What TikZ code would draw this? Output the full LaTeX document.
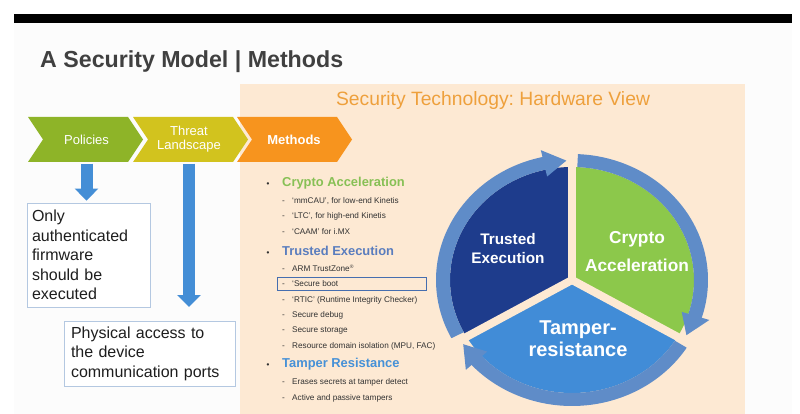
\documentclass[tikz,border=0pt]{standalone}
\usepackage{fontspec}
\setmainfont{Liberation Sans}
\usetikzlibrary{arrows.meta}
\frenchspacing
\definecolor{slidebg}{RGB}{252,252,252}
\definecolor{peach}{RGB}{253,233,211}
\definecolor{titlegray}{RGB}{64,64,64}
\definecolor{paneltitle}{RGB}{238,160,60}
\definecolor{chevgreen}{RGB}{142,180,40}
\definecolor{chevyellow}{RGB}{210,195,30}
\definecolor{chevorange}{RGB}{247,148,30}
\definecolor{arrowblue}{RGB}{68,142,214}
\definecolor{boxedge}{RGB}{180,200,225}
\definecolor{boxtext}{RGB}{30,30,30}
\definecolor{itemgray}{RGB}{50,50,50}
\definecolor{headgreen}{RGB}{135,192,85}
\definecolor{headtrusted}{RGB}{90,125,190}
\definecolor{headtamper}{RGB}{70,145,215}
\definecolor{secboxc}{RGB}{70,110,175}
\definecolor{navyc}{RGB}{30,60,140}
\definecolor{greenc}{RGB}{140,200,75}
\definecolor{tamperc}{RGB}{65,140,215}
\definecolor{bandc}{RGB}{95,140,200}
\newcommand\chevronshape[2]{%
  \fill[#2] (#1,117) -- ({#1+100},117) -- ({#1+115},139.5) -- ({#1+100},162)
    -- (#1,162) -- ({#1+15},139.5) -- cycle;}
\newcommand\cycband[3]{%
  \fill[bandc] (#1:122pt and 113pt) arc[start angle=#1, end angle=#2-0.5, x radius=122pt, y radius=113pt]
    -- (#2-0.5:136pt and 126pt) arc[start angle=#2-0.5, end angle=#1, x radius=136pt, y radius=126pt] -- cycle;
  \fill[bandc] (#2:115pt and 106pt) -- (#2:144pt and 133pt) -- (#3:129pt and 119.5pt) -- cycle;}
\tikzset{
  chevtext/.style={inner sep=0pt, minimum height=45pt, text=white,
    font=\fontsize{13}{14}\selectfont, align=center},
  infobox/.style={draw=boxedge, line width=0.8pt, fill=white, align=left,
    inner ysep=0pt, font=\fontsize{16}{19.5}\selectfont, text=boxtext},
  bluearrow/.style={draw=arrowblue, line width=12pt,
    -{Triangle[width=23pt,length=12pt]}},
  listitem/.style={anchor=base west, inner sep=0pt,
    font=\fontsize{8.2}{9}\selectfont, text=itemgray},
  listhead/.style={anchor=base west, inner sep=0pt,
    font=\fontsize{12.9}{14}\selectfont\bfseries},
  wedgetext/.style={text=white, align=center, inner sep=0pt},
  gapline/.style={draw=peach, line width=8pt},
}
\newcommand\dashitem[1]{\makebox[10pt][l]{-}#1}
\newcommand\bulhead[2]{\makebox[15.5pt][l]{\textcolor{itemgray}{\fontsize{8}{9}\selectfont •}}\textcolor{#1}{#2}}
\begin{document}
\begin{tikzpicture}[x=1pt,y=-1pt]
\useasboundingbox (0,0) rectangle (800,414);
\fill[white] (0,0) rectangle (800,414);
\fill[slidebg] (14,23) rectangle (792,414);
\fill[black] (14,14) rectangle (792,23);
\node[anchor=base west, inner sep=0pt, text=titlegray,
  font=\fontsize{23.2}{26}\selectfont\bfseries] (title) at (40,68) {A Security Model | Methods};
% panel
\fill[peach] (240,84) rectangle (745,414);
\node[anchor=base, inner sep=0pt, text=paneltitle, font=\fontsize{19.3}{22}\selectfont]
  (ptitle) at (493,106) {Security Technology: Hardware View};
% chevrons
\chevronshape{28}{chevgreen}
\chevronshape{133}{chevyellow}
\chevronshape{237}{chevorange}
\node[chevtext] (pol) at (86.5,139.5) {Policies};
\node[chevtext] (thr) at (189,139.5) {Threat\\Landscape};
\node[chevtext, font=\fontsize{13}{14}\selectfont\bfseries] (meth) at (294,139.5) {Methods};
% boxes
\node[infobox, inner xsep=5pt, text width=113pt, minimum height=104pt] (b1) at (88.5,255)
  {Only\\authenticated\\firmware\\should be\\executed};
\node[infobox, inner xsep=7pt, text width=157pt, minimum height=65pt] (b2) at (149.5,353.5)
  {Physical access to\\the device\\communication ports};
% arrows
\coordinate (thrEnd) at (189,307);
\draw[bluearrow, shorten <=1.5pt, shorten >=2pt] (pol.south) -- (b1.north -| pol.south);
\draw[bluearrow, shorten <=1.5pt] (thr.south) -- (thrEnd);
% list
\node[listhead] (h1) at (266.5,186.7) {\bulhead{headgreen}{Crypto Acceleration}};
\node[listitem] (i1) at (282,203.3) {\dashitem{‘mmCAU’, for low-end Kinetis}};
\node[listitem] (i2) at (282,218.5) {\dashitem{‘LTC’, for high-end Kinetis}};
\node[listitem] (i3) at (282,234) {\dashitem{‘CAAM’ for i.MX}};
\node[listhead] (h2) at (266.5,255) {\bulhead{headtrusted}{Trusted Execution}};
\node[listitem] (i4) at (282,271) {\dashitem{ARM TrustZone\raisebox{2.5pt}{\fontsize{5}{5}\selectfont ®}}};
\node[listitem] (i5) at (282,286.5) {\dashitem{‘Secure boot}};
\draw[draw=secboxc, line width=0.9pt] (277,277) rectangle (426,290);
\node[listitem] (i6) at (282,302) {\dashitem{‘RTIC’ (Runtime Integrity Checker)}};
\node[listitem] (i7) at (282,317.3) {\dashitem{Secure debug}};
\node[listitem] (i8) at (282,332.7) {\dashitem{Secure storage}};
\node[listitem] (i9) at (282,348) {\dashitem{Resource domain isolation (MPU, FAC)}};
\node[listhead] (h3) at (266.5,367.7) {\bulhead{headtamper}{Tamper Resistance}};
\node[listitem] (i10) at (282,384.3) {\dashitem{Erases secrets at tamper detect}};
\node[listitem] (i11) at (282,400) {\dashitem{Active and passive tampers}};
% cycle
\begin{scope}[shift={(572,280)}]
  \fill[navyc] (0,0) -- (90:122pt and 113pt) arc[start angle=90, end angle=210, x radius=122pt, y radius=113pt] -- cycle;
  \fill[greenc] (0,0) -- (-30:122pt and 113pt) arc[start angle=-30, end angle=90, x radius=122pt, y radius=113pt] -- cycle;
  \fill[tamperc] (0,0) -- (210:122pt and 113pt) arc[start angle=210, end angle=330, x radius=122pt, y radius=113pt] -- cycle;
  \draw[gapline] (0,0) -- (90:150pt and 140pt);
  \draw[gapline] (0,0) -- (210:150pt and 140pt);
  \draw[gapline] (0,0) -- (330:150pt and 140pt);
  \cycband{207.5}{102.5}{92.5}
  \cycband{87.5}{-17.5}{-27.5}
  \cycband{-32.5}{-137.5}{-147.5}
\end{scope}
\node[wedgetext, font=\fontsize{15.3}{19}\selectfont\bfseries] (te) at (508,248.5) {Trusted\\Execution};
\node[wedgetext, font=\fontsize{17.3}{28}\selectfont\bfseries] (ca) at (637,252) {Crypto\\Acceleration};
\node[wedgetext, font=\fontsize{20}{22}\selectfont\bfseries] (tr) at (578,339) {Tamper-\\resistance};
\end{tikzpicture}
\end{document}
